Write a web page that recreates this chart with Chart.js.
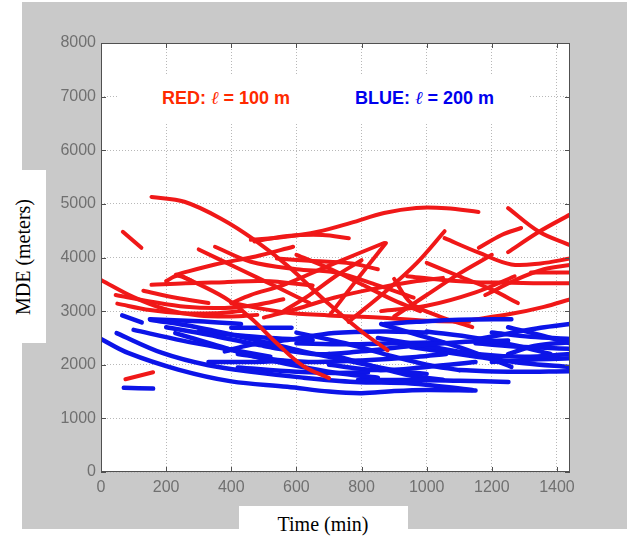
<!DOCTYPE html>
<html>
<head>
<meta charset="utf-8">
<script src="https://cdn.jsdelivr.net/npm/chart.js@4.4.1/dist/chart.umd.min.js"></script>
<style>
  html, body { margin: 0; padding: 0; background: #fff; }
  #page { position: relative; width: 639px; height: 541px; overflow: hidden; }
  #panel { position: absolute; left: 22px; top: 2px; width: 605px; height: 527px; background: #c9c9c9; }
  #mde { position: absolute; left: 0; top: 0; }
  .box { position: absolute; background: #fff; }
  .ylab { left: 0; top: 170px; width: 46px; height: 173px; }
  .ylab span { position: absolute; left: 23px; top: 87px; transform: translate(-50%, -50%) rotate(-90deg);
    white-space: nowrap; font: 20px "Liberation Serif", "Times New Roman", serif; color: #000; }
  .xlab { left: 239px; top: 506px; width: 169px; height: 35px; }
  .xlab span { position: absolute; left: 84px; top: 18px; transform: translate(-50%, -50%);
    white-space: nowrap; font: 20px "Liberation Serif", "Times New Roman", serif; color: #000; }
  .keybox { left: 118px; top: 74px; width: 412px; height: 48px; }
  .key { position: absolute; top: 87px; line-height: 20px; white-space: nowrap;
    font: bold 18px "Liberation Sans", Arial, sans-serif; }
  .key i { font-family: "DejaVu Serif", serif; font-weight: normal; }
</style>
</head>
<body>
<div id="page">
  <div id="panel"></div>
  <canvas id="mde" width="639" height="541"></canvas>
  <div class="box ylab"><span>MDE (meters)</span></div>
  <div class="box xlab"><span>Time (min)</span></div>
  <div class="box keybox"></div>
  <div class="key" style="left:162px;color:#ff2a00">RED: <i>ℓ</i> = 100 m</div>
  <div class="key" style="left:355px;color:#0000ee">BLUE: <i>ℓ</i> = 200 m</div>
</div>
<script>
// axis ticks
const xTicks = [0, 200, 400, 600, 800, 1000, 1200, 1400];
const yTicks = [0, 1000, 2000, 3000, 4000, 5000, 6000, 7000, 8000];

// tracks for l = 100 m, each a list of [time (min), MDE (m)]
const redTracks = [
  [[155, 5130], [256, 5040], [370, 4720], [471, 4330], [572, 3850], [698, 3140], [800, 2620], [880, 2270]],
  [[67, 4480], [124, 4180]],
  [[0, 3580], [100, 3260], [200, 3030], [300, 2920], [400, 2900], [480, 2930]],
  [[45, 3300], [150, 3180], [260, 3080], [380, 3060], [480, 3120], [560, 3220]],
  [[50, 3140], [150, 3020], [250, 2960], [350, 2960], [430, 3000]],
  [[155, 3490], [260, 3520], [380, 3540], [500, 3560], [650, 3480]],
  [[200, 3560], [235, 3660], [280, 3560]],
  [[130, 3380], [230, 3250], [330, 3150]],
  [[350, 4200], [460, 3920], [600, 3780], [720, 3720], [850, 3480], [960, 3250]],
  [[900, 3600], [952, 3150], [1040, 2900], [1140, 2700]],
  [[230, 3680], [350, 3870], [475, 4020], [590, 4200]],
  [[250, 3650], [380, 3250], [460, 2870], [540, 2400], [620, 1980], [700, 1750]],
  [[300, 4150], [420, 3800], [540, 3450], [640, 3150]],
  [[400, 3150], [459, 3300], [561, 3490], [700, 3850], [869, 4270]],
  [[560, 3000], [640, 3300], [720, 3650], [800, 3950]],
  [[600, 4050], [700, 3800], [800, 3500], [900, 3200], [980, 3000]],
  [[704, 2940], [790, 3620], [875, 4270]],
  [[760, 2800], [880, 3400], [970, 3900], [1055, 4490]],
  [[500, 2880], [600, 3040], [715, 3250], [840, 3420], [970, 3560], [1050, 3620]],
  [[400, 3150], [560, 2980], [700, 2920], [850, 2880], [1000, 2820], [1130, 2800]],
  [[900, 2900], [1000, 3300], [1100, 3700], [1200, 4050]],
  [[1000, 3900], [1100, 3650], [1200, 3400], [1280, 3150]],
  [[1180, 3300], [1280, 3600], [1360, 3780], [1440, 3860]],
  [[1130, 2830], [1260, 2950], [1360, 3080], [1440, 3220]],
  [[1250, 4100], [1345, 4480], [1440, 4800]],
  [[1250, 4920], [1345, 4480], [1440, 4230]],
  [[1160, 4180], [1230, 4420], [1290, 4550]],
  [[1055, 4360], [1160, 4090], [1260, 3870], [1350, 3890], [1440, 3980]],
  [[940, 3650], [1050, 3580], [1150, 3540], [1260, 3530], [1350, 3520], [1440, 3520]],
  [[1320, 3720], [1440, 3720]],
  [[460, 4330], [560, 4380], [666, 4480], [767, 4645], [869, 4830], [968, 4925], [1060, 4920], [1159, 4850]],
  [[471, 4300], [572, 4400], [680, 4420], [761, 4360]],
  [[540, 3980], [640, 3940], [770, 3890], [850, 3780]],
  [[860, 3000], [1000, 3100], [1150, 3350], [1270, 3650]],
  [[75, 1730], [160, 1860]]
];

// red tracks that dip through the blue band and stay in front of it
const redOnTop = [0, 11];

// tracks for l = 200 m
const blueTracks = [
  [[65, 2920], [125, 2790]],
  [[70, 1570], [160, 1555]],
  [[0, 2480], [83, 2220], [237, 1910], [400, 1690], [572, 1590], [700, 1500], [800, 1470], [900, 1510], [1000, 1530], [1150, 1520]],
  [[48, 2590], [188, 2220], [330, 1990], [475, 1860], [620, 1760], [780, 1680], [952, 1650], [1140, 1530]],
  [[100, 2650], [250, 2450], [400, 2280], [520, 2150]],
  [[151, 2840], [290, 2705], [475, 2460], [620, 2250], [770, 2060], [900, 1900], [1000, 1830]],
  [[150, 2850], [300, 2810], [430, 2760]],
  [[228, 2590], [350, 2370], [475, 2150], [600, 1980], [720, 1850], [850, 1760]],
  [[330, 2052], [475, 2052], [560, 2070]],
  [[400, 2690], [585, 2690]],
  [[380, 2250], [459, 2370], [582, 2470], [715, 2590], [870, 2620], [1000, 2600]],
  [[420, 2200], [560, 2080], [666, 2052], [800, 2080], [968, 2146], [1060, 2200]],
  [[420, 1950], [600, 1870], [715, 1847], [820, 1860]],
  [[500, 2350], [650, 2200], [800, 2250], [950, 2350], [1100, 2420], [1250, 2450]],
  [[700, 2000], [850, 1900], [1000, 1960], [1150, 2050]],
  [[789, 1716], [968, 1716], [1100, 1700], [1251, 1680]],
  [[870, 2760], [968, 2800], [1100, 2840], [1260, 2850]],
  [[850, 2500], [1000, 2350], [1150, 2200], [1300, 2150], [1440, 2200]],
  [[1150, 2470], [1260, 2593], [1350, 2690], [1440, 2760]],
  [[860, 2760], [952, 2593], [1106, 2313], [1260, 1960]],
  [[952, 2332], [1159, 2146], [1300, 2030], [1440, 1960]],
  [[1200, 2600], [1320, 2520], [1440, 2480]],
  [[1250, 2700], [1350, 2550], [1440, 2400]],
  [[1150, 2400], [1300, 2330], [1440, 2300]],
  [[1200, 2050], [1330, 2100], [1440, 2120]],
  [[1100, 1900], [1250, 1870], [1440, 1880]],
  [[600, 2400], [750, 2380], [900, 2400], [1050, 2420]],
  [[600, 2600], [750, 2400], [900, 2150], [1000, 2000], [1100, 1900]],
  [[700, 2200], [850, 1950], [950, 1800], [1050, 1720]],
  [[1000, 2620], [1150, 2500], [1280, 2350], [1380, 2200]],
  [[1250, 2200], [1330, 2350], [1440, 2420]],
  [[200, 2700], [330, 2560], [475, 2380], [560, 2300]],
  [[300, 2620], [400, 2560], [520, 2500], [650, 2460]]
];

const RED = '#f01818';
const BLUE = '#0c14e8';

function trackSet(track, color, width, order) {
  return {
    data: track.map(([x, y]) => ({ x, y })),
    borderColor: color,
    borderWidth: width,
    borderCapStyle: 'round',
    borderJoinStyle: 'round',
    pointRadius: 0,
    tension: 0.35,
    fill: false,
    order: order
  };
}

// white plot box, dark frame and inward tick marks
const plotFrame = {
  id: 'plotFrame',
  beforeDraw(chart) {
    const { ctx, chartArea: a } = chart;
    ctx.save();
    ctx.fillStyle = '#fff';
    ctx.fillRect(a.left, a.top, a.right - a.left, a.bottom - a.top);
    ctx.restore();
  },
  afterDraw(chart) {
    const { ctx, chartArea: a, scales } = chart;
    ctx.save();
    ctx.strokeStyle = '#505050';
    ctx.lineWidth = 1;
    ctx.beginPath();
    yTicks.forEach(v => {
      const py = Math.round(scales.y.getPixelForValue(v)) + 0.5;
      ctx.moveTo(a.left, py); ctx.lineTo(a.left + 5, py);
      ctx.moveTo(a.right - 5, py); ctx.lineTo(a.right, py);
    });
    xTicks.forEach(v => {
      const px = Math.round(scales.x.getPixelForValue(v)) + 0.5;
      ctx.moveTo(px, a.bottom); ctx.lineTo(px, a.bottom - 5);
      ctx.moveTo(px, a.top); ctx.lineTo(px, a.top + 5);
    });
    ctx.stroke();
    ctx.strokeRect(a.left + 0.5, a.top + 0.5, a.right - a.left - 1, a.bottom - a.top - 1);
    ctx.restore();
  }
};

const tickFont = { family: '"Liberation Sans", Arial, sans-serif', size: 16 };

new Chart(document.getElementById('mde'), {
  type: 'line',
  data: {
    datasets: [
      ...redTracks.map((t, i) => trackSet(t, RED, 4, redOnTop.includes(i) ? 0 : 2)),
      ...blueTracks.map(t => trackSet(t, BLUE, 4.5, 1))
    ]
  },
  options: {
    responsive: false,
    animation: false,
    devicePixelRatio: 1,
    layout: { padding: { top: 43, right: 69, left: 0, bottom: 0 } },
    plugins: { legend: { display: false }, tooltip: { enabled: false } },
    scales: {
      x: {
        type: 'linear',
        min: 0,
        max: 1440,
        afterFit: s => { s.height = 69; },
        afterBuildTicks: s => { s.ticks = xTicks.map(v => ({ value: v })); },
        ticks: { color: '#707070', font: tickFont, padding: 6, maxRotation: 0, autoSkip: false,
          callback: v => String(v) },
        grid: { color: '#b8b8b8', lineWidth: 1, drawTicks: false },
        border: { display: false, dash: [1, 2] }
      },
      y: {
        min: 0,
        max: 8000,
        afterFit: s => { s.width = 101; },
        afterBuildTicks: s => { s.ticks = yTicks.map(v => ({ value: v })); },
        ticks: { color: '#707070', font: tickFont, padding: 5, autoSkip: false,
          callback: v => String(v) },
        grid: { color: '#b8b8b8', lineWidth: 1, drawTicks: false },
        border: { display: false, dash: [1, 2] }
      }
    }
  },
  plugins: [plotFrame]
});
</script>
</body>
</html>
